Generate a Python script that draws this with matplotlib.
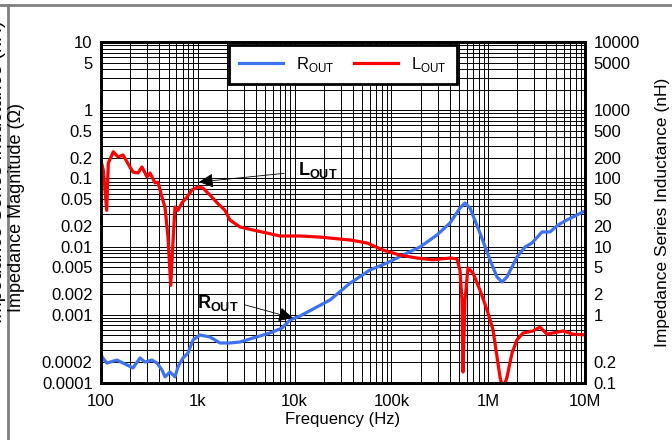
import numpy as np
import matplotlib
matplotlib.use("Agg")
import matplotlib.pyplot as plt
from matplotlib.lines import Line2D

plt.rcParams['font.family'] = ['Liberation Sans', 'DejaVu Sans']
plt.rcParams['mathtext.fontset'] = 'custom'
plt.rcParams['mathtext.rm'] = 'Liberation Sans'
plt.rcParams['mathtext.bf'] = 'Liberation Sans:bold'

# R_OUT, impedance magnitude (ohm)
r_freq = [100, 105, 115, 146, 186, 214, 253, 285, 336, 379, 427, 459, 516, 581,
          624, 703, 792, 892, 1054, 1337, 1695, 2151, 2729, 3718, 5571, 7413,
          8972, 11370, 23250, 37330, 60070, 90100, 131900, 197400, 295800,
          403000, 511000, 576000, 649000, 822000, 1045000, 1233000, 1390000,
          1564000, 1984000, 2399000, 2833000, 3597000, 4345000, 5257000,
          6514000, 9529000]
r_out = [2.6e-4, 2.3e-4, 1.96e-4, 2.17e-4, 1.84e-4, 1.66e-4, 2.33e-4, 2.03e-4,
         2.17e-4, 1.96e-4, 1.55e-4, 1.23e-4, 1.45e-4, 1.23e-4, 1.72e-4, 2.33e-4,
         2.75e-4, 4.27e-4, 5.06e-4, 4.72e-4, 3.86e-4, 3.86e-4, 3.99e-4, 4.57e-4,
         5.41e-4, 6.4e-4, 8.39e-4, 9.6e-4, 1.65e-3, 2.9e-3, 4.54e-3, 5.75e-3,
         7.53e-3, 9.87e-3, 0.0148, 0.0222, 0.0368, 0.0436, 0.0368, 0.0158,
         6.36e-3, 3.58e-3, 3.03e-3, 3.58e-3, 7.04e-3, 9.87e-3, 0.0113, 0.0164,
         0.0164, 0.0207, 0.0246, 0.0322]

# L_OUT, series inductance (nH)
l_freq = [100, 105.6, 114.5, 119, 134, 150, 169, 199, 214, 241, 265, 299, 321,
          361, 388, 427, 459, 492, 525, 551, 581, 624, 687, 773, 871, 1005, 1132,
          1337, 1579, 1909, 2151, 2729, 3718, 5186, 7063, 11370, 18290, 29430,
          37330, 55960, 81870, 122700, 183700, 269000, 403000, 476000, 511000,
          536000, 549000, 576000, 618000, 696000, 822000, 972000, 1122000,
          1325000, 1423000, 1564000, 1762000, 1984000, 2288000, 2904000,
          3428000, 4048000, 5925000, 7516000, 9529000]
l_out = [180, 133, 34, 168, 246, 206, 220, 147, 124, 120, 147, 105, 120, 86, 88,
         53, 37, 14, 2.7, 9.9, 38, 34, 44, 53, 68, 75, 72, 57, 44, 34, 24.5,
         19.4, 17.5, 15.8, 14.3, 14.3, 13.8, 12.9, 12.5, 11.3, 8.9, 7.5, 6.8,
         6.4, 6.8, 6.6, 4.5, 1.65, 0.145, 1.65, 4.85, 4.1, 2.3, 1.18, 0.6, 0.122,
         0.08, 0.122, 0.275, 0.43, 0.54, 0.58, 0.66, 0.52, 0.58, 0.52, 0.51]

x_ticks = [1e2, 1e3, 1e4, 1e5, 1e6, 1e7]
x_labels = ['100', '1k', '10k', '100k', '1M', '10M']
left_ticks = [10, 5, 1, 0.5, 0.2, 0.1, 0.05, 0.02, 0.01, 0.005, 0.002, 0.001,
              0.0002, 0.0001]
left_labels = ['10', '5', '1', '0.5', '0.2', '0.1', '0.05', '0.02', '0.01',
               '0.005', '0.002', '0.001', '0.0002', '0.0001']
right_ticks = [10000, 5000, 1000, 500, 200, 100, 50, 20, 10, 5, 2, 1, 0.2, 0.1]
right_labels = ['10000', '5000', '1000', '500', '200', '100', '50', '20', '10',
                '5', '2', '1', '0.2', '0.1']

fig = plt.figure(figsize=(6.72, 4.40), dpi=100)
ax = fig.add_axes([101 / 672, 57 / 440, 484 / 672, 341 / 440])
ax2 = ax.twinx()

blue = '#3f72f2'
red = '#ff0000'
l1, = ax.plot(r_freq, r_out, color=blue, lw=2.3, label=r'R$_\mathregular{OUT}$')
l2, = ax2.plot(l_freq, l_out, color=red, lw=2.3, label=r'L$_\mathregular{OUT}$')

ax.set_xscale('log')
ax.set_yscale('log')
ax2.set_yscale('log')
ax.set_xlim(1e2, 1e7)
ax.set_ylim(1e-4, 10)
ax2.set_ylim(0.1, 1e4)

# dense log grid
decades_x = [1e2, 1e3, 1e4, 1e5, 1e6]
decades_y = [1e-4, 1e-3, 1e-2, 1e-1, 1]
ax.set_xticks([d * k for d in decades_x for k in range(1, 10)], minor=True)
ax.set_yticks([d * k for d in decades_y for k in range(1, 10)], minor=True)
ax2.set_yticks([], minor=True)
ax.set_xticks(x_ticks)
ax.set_xticklabels(x_labels)
ax.set_yticks(left_ticks)
ax.set_yticklabels(left_labels)
ax2.set_yticks(right_ticks)
ax2.set_yticklabels(right_labels)
ax.set_yticklabels([], minor=True)
ax.set_xticklabels([], minor=True)
ax.grid(True, which='both', color='black', lw=0.7)

for a in (ax, ax2):
    a.tick_params(which='both', length=0, labelsize=12, pad=6)
    for s in a.spines.values():
        s.set_linewidth(2)
ax.tick_params(axis='x', pad=8)

ax.set_xlabel('Frequency (Hz)', fontsize=12, labelpad=2)
fig.text(17 / 672, 1 - 207 / 440, 'Impedance Magnitude (\u03a9)', rotation=90,
         ha='center', va='center', fontsize=13)
# label of a neighbouring panel, cut off at the left edge
fig.text(-2.5 / 672, 1 - 172 / 440, 'Impedance Series Inductance (nH)', rotation=90,
         ha='center', va='center', fontsize=14)
fig.text(662 / 672, 1 - 212 / 440, 'Impedance Series Inductance (nH)', rotation=90,
         ha='center', va='center', fontsize=12.5)

leg = ax2.legend(handles=[l1, l2], loc='upper center', bbox_to_anchor=(0.5, 1.0),
                 ncol=2, fontsize=12, fancybox=False, framealpha=1,
                 edgecolor='black', handlelength=2.6, columnspacing=1.2,
                 borderpad=0.6, borderaxespad=0.2)
leg.get_frame().set_linewidth(2)

ax2.annotate(r'$\mathbf{L_{OUT}}$', xy=(1028, 88.6), xytext=(10840, 133),
             fontsize=13, va='center', ha='left',
             arrowprops=dict(arrowstyle='-|>', color='black', lw=0.6,
                             mutation_scale=22, shrinkA=8, shrinkB=0))
ax.annotate(r'$\mathbf{R_{OUT}}$', xy=(9616, 8.97e-4), xytext=(1618, 1.49e-3),
            fontsize=13, va='center', ha='center',
            arrowprops=dict(arrowstyle='-|>', color='black', lw=0.6,
                            mutation_scale=22, shrinkA=2, shrinkB=0,
                            connectionstyle='arc,angleA=0,angleB=0,armA=20,armB=0,rad=0'))

# page frame lines
fig.add_artist(Line2D([0, 1], [1 - 5 / 440, 1 - 5 / 440], color='#808080', lw=2,
                      transform=fig.transFigure))
fig.add_artist(Line2D([8 / 672, 8 / 672], [0, 1 - 5 / 440], color='#808080', lw=2,
                      transform=fig.transFigure))

fig.savefig('out.png', dpi=100)
